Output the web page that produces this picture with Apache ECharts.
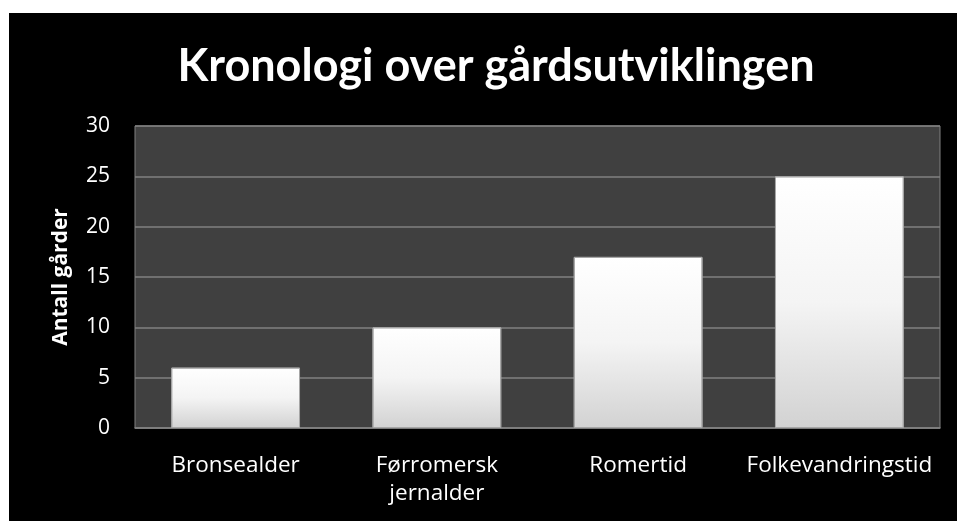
<!DOCTYPE html>
<html>
<head>
<meta charset="utf-8">
<script src="https://cdn.jsdelivr.net/npm/echarts@6/dist/echarts.min.js"></script>
<style>
  html, body { margin: 0; padding: 0; background: #ffffff; }
  #chart { position: absolute; left: 9px; top: 13px; width: 948px; height: 508px; background: #000000; }
</style>
</head>
<body>
<div id="chart"></div>
<script>
// kategorier og verdier
var categories = ["Bronsealder", "Førromersk\njernalder", "Romertid", "Folkevandringstid"];
var antallGarder = [6, 10, 17, 25];
var yTicks = { min: 0, max: 30, interval: 5 };

var myChart = echarts.init(document.getElementById("chart"));
myChart.setOption({
  backgroundColor: "#000000",
  title: {
    text: "Kronologi over gårdsutviklingen",
    left: 482,
    textAlign: "center",
    top: 26,
    textStyle: {
      color: "#ffffff",
      fontSize: 45,
      fontWeight: "bold",
      fontFamily: "Lato"
    }
  },
  grid: {
    left: 126,
    top: 113,
    right: 17,
    bottom: 93,
    show: true,
    backgroundColor: "#404040",
    borderColor: "#808080",
    borderWidth: 1
  },
  xAxis: {
    type: "category",
    data: categories,
    axisLine: { show: true, lineStyle: { color: "#808080", width: 1.5 } },
    axisTick: { show: false },
    axisLabel: {
      interval: 0,
      hideOverlap: false,
      color: "#ffffff",
      fontSize: 22.5,
      fontFamily: "Open Sans",
      margin: 24,
      lineHeight: 28
    }
  },
  yAxis: {
    type: "value",
    min: yTicks.min,
    max: yTicks.max,
    interval: yTicks.interval,
    name: "Antall gårder",
    nameLocation: "middle",
    nameRotate: 90,
    nameGap: 63,
    nameTextStyle: {
      color: "#ffffff",
      fontSize: 21,
      fontWeight: "bold",
      fontFamily: "Open Sans"
    },
    axisLine: { show: false },
    axisTick: { show: false },
    axisLabel: {
      color: "#ffffff",
      fontSize: 21,
      fontFamily: "Open Sans",
      margin: 25
    },
    splitLine: { lineStyle: { color: "#808080", width: 1.5 } }
  },
  series: [{
    type: "bar",
    data: antallGarder,
    barWidth: "64%",
    itemStyle: {
      color: new echarts.graphic.LinearGradient(0, 0, 0, 1, [
        { offset: 0, color: "#ffffff" },
        { offset: 0.5, color: "#f4f4f4" },
        { offset: 1, color: "#d2d2d2" }
      ]),
      borderColor: "#a6a6a6",
      borderWidth: 1
    }
  }]
});
</script>
</body>
</html>
